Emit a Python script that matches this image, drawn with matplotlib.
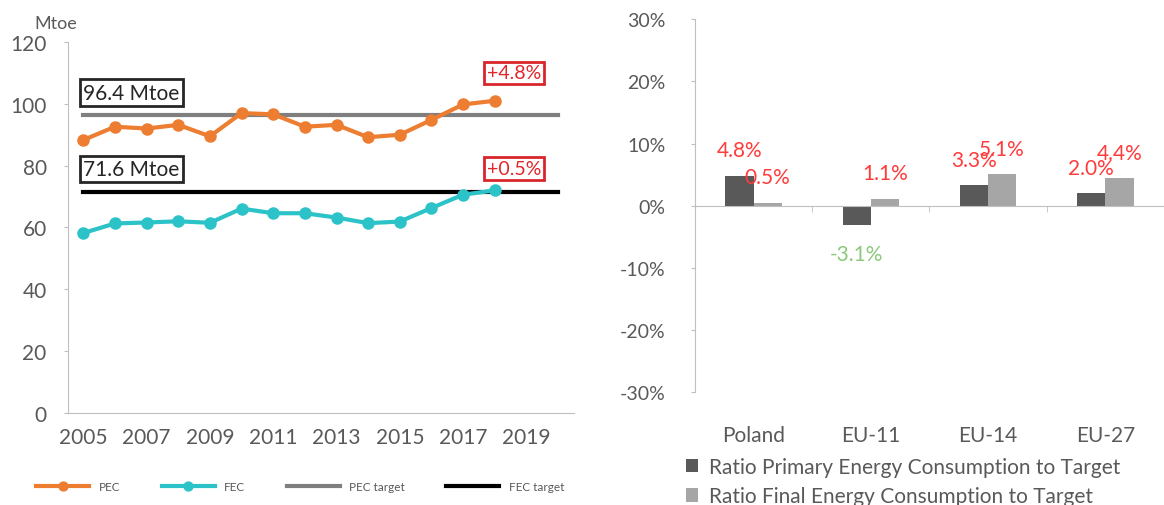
import matplotlib.pyplot as plt

plt.rcParams['font.family'] = ['Lato', 'DejaVu Sans']

# left panel: energy consumption, Mtoe
years = list(range(2005, 2019))
pec = [88.3, 92.6, 92.0, 93.2, 89.5, 97.0, 96.6, 92.6, 93.2, 89.2, 90.0, 94.8, 99.8, 101.0]
fec = [58.2, 61.3, 61.6, 62.0, 61.5, 66.1, 64.6, 64.6, 63.2, 61.4, 61.9, 66.3, 70.6, 72.0]
target_years = list(range(2005, 2021))
pec_target = 96.4
fec_target = 71.6
pec_gap = '+4.8%'
fec_gap = '+0.5%'
year_ticks = list(range(2005, 2021, 2))

# right panel: ratio to target, %
regions = ['Poland', 'EU-11', 'EU-14', 'EU-27']
ratio_pec = [4.8, -3.1, 3.3, 2.0]
ratio_fec = [0.5, 1.1, 5.1, 4.4]

grey_txt = '#595959'
axis_col = '#bfbfbf'

fig = plt.figure(figsize=(11.64, 5.06), dpi=100)

# ---- left chart
ax = fig.add_axes([0.058, 0.182, 0.435, 0.733])
ax.plot(target_years, [pec_target] * len(target_years), color='#7f7f7f', lw=3, label='PEC target', zorder=2)
ax.plot(target_years, [fec_target] * len(target_years), color='black', lw=3, label='FEC target', zorder=2)
ax.plot(years, pec, color='#ED7D31', lw=3, marker='o', ms=8, label='PEC', zorder=3)
ax.plot(years, fec, color='#2CC3C8', lw=3, marker='o', ms=8, label='FEC', zorder=3)

ax.set_xlim(2004.5, 2020.5)
ax.set_ylim(0, 120)
ax.set_yticks(range(0, 121, 20))
ax.set_xticks(year_ticks)
ax.tick_params(axis='both', colors=grey_txt, labelsize=15, length=3)
ax.tick_params(axis='y', pad=12, color=axis_col)
ax.tick_params(axis='x', length=0, pad=10)
for s in ['top', 'right']:
    ax.spines[s].set_visible(False)
for s in ['left', 'bottom']:
    ax.spines[s].set_color(axis_col)
ax.text(-0.065, 1.03, 'Mtoe', transform=ax.transAxes, fontsize=13, color=grey_txt, va='bottom')

box_k = dict(boxstyle='square,pad=0.15', fc='white', ec='#262626', lw=2)
box_r = dict(boxstyle='square,pad=0.15', fc='white', ec='#D9262B', lw=2)
ax.text(2005, pec_target + 4, f'{pec_target} Mtoe', fontsize=15, color='#262626', va='bottom', bbox=box_k)
ax.text(2005, fec_target + 4, f'{fec_target} Mtoe', fontsize=15, color='#262626', va='bottom', bbox=box_k)
ax.text(2018.6, 110, pec_gap, fontsize=14, color='#E0262B', ha='center', va='center', bbox=box_r)
ax.text(2018.6, 79, fec_gap, fontsize=14, color='#E0262B', ha='center', va='center', bbox=box_r)

h, l = ax.get_legend_handles_labels()
order = [2, 3, 0, 1]
fig.legend([h[i] for i in order], [l[i] for i in order], loc='center', ncol=4,
           bbox_to_anchor=(0.258, 0.037), frameon=False, fontsize=8.5, handlelength=4.5,
           columnspacing=3.5, labelcolor=grey_txt, markerscale=0.8)

# ---- right chart
ax2 = fig.add_axes([0.597, 0.223, 0.403, 0.737])
x = list(range(len(regions)))
w = 0.24
ax2.bar([i - w / 2 for i in x], ratio_pec, width=w, color='#595959', label='Ratio Primary Energy Consumption to Target')
ax2.bar([i + w / 2 for i in x], ratio_fec, width=w, color='#a6a6a6', label='Ratio Final Energy Consumption to Target')
for i in x:
    for dx, v in [(-w / 2, ratio_pec[i]), (w / 2, ratio_fec[i])]:
        c = '#FF3B3B' if v >= 0 else '#8CC97C'
        off = 4.1 if v >= 0 else -4.6
        ax2.text(i + dx, v + off, f'{v:.1f}%', color=c, fontsize=15, ha='center', va='center')

ax2.set_xlim(-0.5, len(regions) - 0.5)
ax2.set_ylim(-30, 30)
ax2.set_yticks(range(-30, 31, 10))
ax2.set_yticklabels([f'{t}%' for t in range(-30, 31, 10)])
ax2.spines['bottom'].set_position(('data', 0))
ax2.spines['bottom'].set_color(axis_col)
ax2.spines['left'].set_color(axis_col)
for s in ['top', 'right']:
    ax2.spines[s].set_visible(False)
ax2.set_xticks(x)
ax2.set_xticklabels(regions)
ax2.set_xticks([i + 0.5 for i in x[:-1]], minor=True)
ax2.tick_params(axis='x', which='major', length=0, pad=158, labelsize=15, colors=grey_txt)
ax2.tick_params(axis='x', which='minor', length=4, color=axis_col)
ax2.tick_params(axis='y', labelsize=14, colors=grey_txt, length=3, color=axis_col, pad=18)

h2, l2 = ax2.get_legend_handles_labels()
fig.legend(h2, l2, loc='upper left', bbox_to_anchor=(0.589, 0.095), frameon=False, fontsize=15,
           handlelength=0.6, handleheight=0.6, handletextpad=0.5, labelspacing=0.45, labelcolor=grey_txt,
           borderaxespad=0, borderpad=0)

fig.savefig('out.png', dpi=100)
